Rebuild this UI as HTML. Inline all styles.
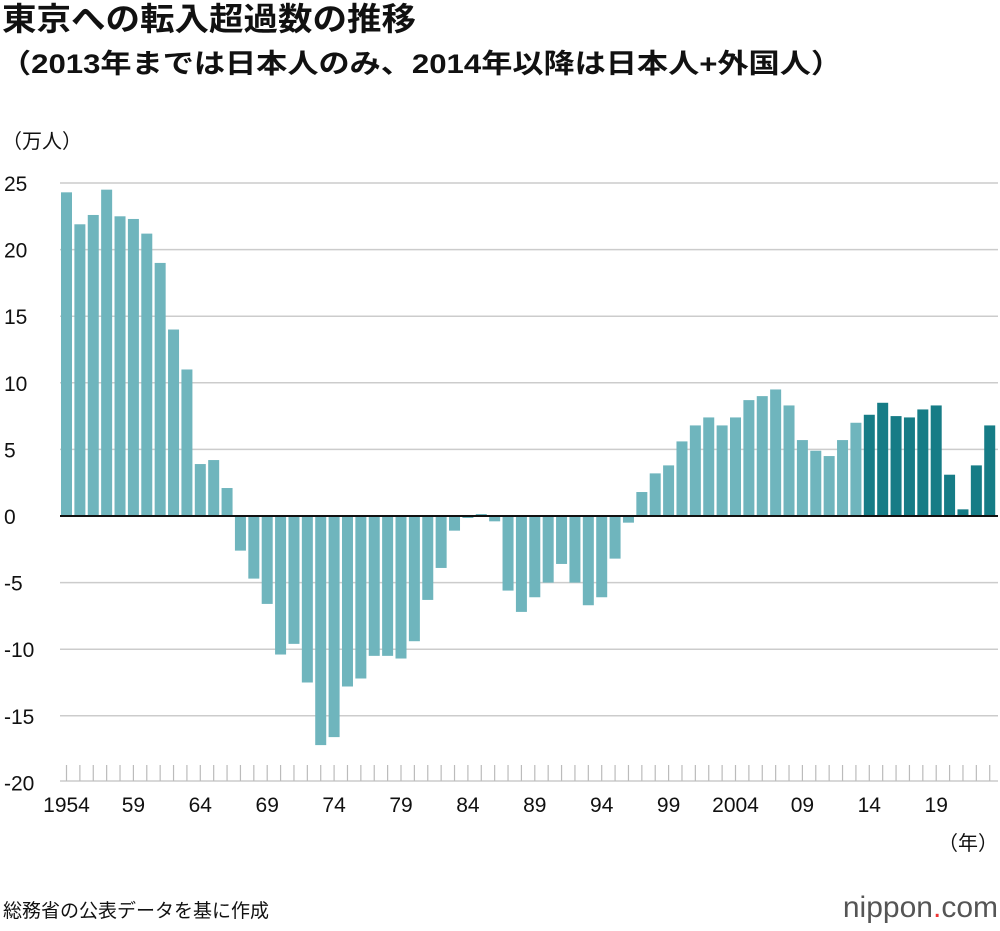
<!DOCTYPE html>
<html><head><meta charset="utf-8"><style>
body{margin:0;background:#fff;width:1000px;height:926px;overflow:hidden;font-family:"Liberation Sans","Noto Sans CJK JP",sans-serif;}
</style></head><body>
<svg id="chart" width="1000" height="926" xmlns="http://www.w3.org/2000/svg" font-family="Liberation Sans, Noto Sans CJK JP, sans-serif">
<text x="2" y="30" font-size="32" font-weight="bold" fill="#111" textLength="414" lengthAdjust="spacingAndGlyphs">東京への転入超過数の推移</text>
<text x="0" y="73" font-size="27" font-weight="bold" fill="#111" textLength="842" lengthAdjust="spacingAndGlyphs">（2013年までは日本人のみ、2014年以降は日本人+外国人）</text>
<text x="2" y="148" font-size="20" fill="#111">（万人）</text>
<text x="998" y="850" font-size="20" fill="#111" text-anchor="end">（年）</text>
<text x="3" y="917" font-size="19" fill="#111">総務省の公表データを基に作成</text>
<g>
<text x="998" y="917" font-size="30" fill="#555" text-anchor="end">nippon<tspan fill="#e33">.</tspan>com</text>
</g>
<g id="grid"></g><g id="bars"></g><g id="axes"></g>
</svg>
<script>
const years=[];for(let y=1954;y<=2023;y++)years.push(y);
const values=[24.3,21.9,22.6,24.5,22.5,22.3,21.2,19.0,14.0,11.0,3.9,4.2,2.1,-2.6,-4.7,-6.6,-10.4,-9.6,-12.5,-17.2,-16.6,-12.8,-12.2,-10.5,-10.5,-10.7,-9.4,-6.3,-3.9,-1.1,-0.15,0.15,-0.4,-5.6,-7.2,-6.1,-5.0,-3.6,-5.0,-6.7,-6.1,-3.2,-0.5,1.8,3.2,3.8,5.6,6.8,7.4,6.8,7.4,8.7,9.0,9.5,8.3,5.7,4.9,4.5,5.7,7.0,7.6,8.5,7.5,7.4,8.0,8.3,3.1,0.5,3.8,6.8];
const yTicks=[25,20,15,10,5,0,-5,-10,-15,-20];
const xLabels=["1954","59","64","69","74","79","84","89","94","99","2004","09","14","19"];
const NS="http://www.w3.org/2000/svg";
const yS=v=>516-v*13.32;
const xS=i=>66.5+i*13.38;
function mk(t,a,p){const e=document.createElementNS(NS,t);for(const k in a)e.setAttribute(k,a[k]);p.appendChild(e);return e;}
const grid=document.getElementById('grid'),bars=document.getElementById('bars'),axes=document.getElementById('axes');
yTicks.forEach(t=>{
 if(t!==0&&t!==-20){const l=mk('line',{x1:60,x2:998,y1:yS(t),y2:yS(t),stroke:'#ccc','stroke-width':1.5},grid);
 
 }
 const tx=mk('text',{x:4,y:yS(t)+8,'font-size':21,fill:'#111'},axes);tx.textContent=t;
 
 
});
values.forEach((v,i)=>{
 const y0=yS(Math.max(v,0)),h=Math.abs(yS(v)-yS(0));
 const r=mk('rect',{x:xS(i)-5.5,y:y0,width:11,height:Math.max(h,0.5),fill:years[i]>=2014?'#167c86':'#6fb5bd'},bars);
 
 
});
const zl=mk('line',{x1:60,x2:998,y1:516,y2:516,stroke:'#111','stroke-width':2},axes);


const bl=mk('line',{x1:60,x2:998,y1:781,y2:781,stroke:'#ccc','stroke-width':1.5},axes);


years.forEach((y,i)=>{
 const t=mk('line',{x1:xS(i),x2:xS(i),y1:765,y2:781,stroke:'#bbb','stroke-width':1.2},axes);
 
 
});
xLabels.forEach((lab,k)=>{
 const tx=mk('text',{x:xS(k*5),y:812,'font-size':21,fill:'#111','text-anchor':'middle'},axes);tx.textContent=lab;
 
 
});
</script>
</body></html>
